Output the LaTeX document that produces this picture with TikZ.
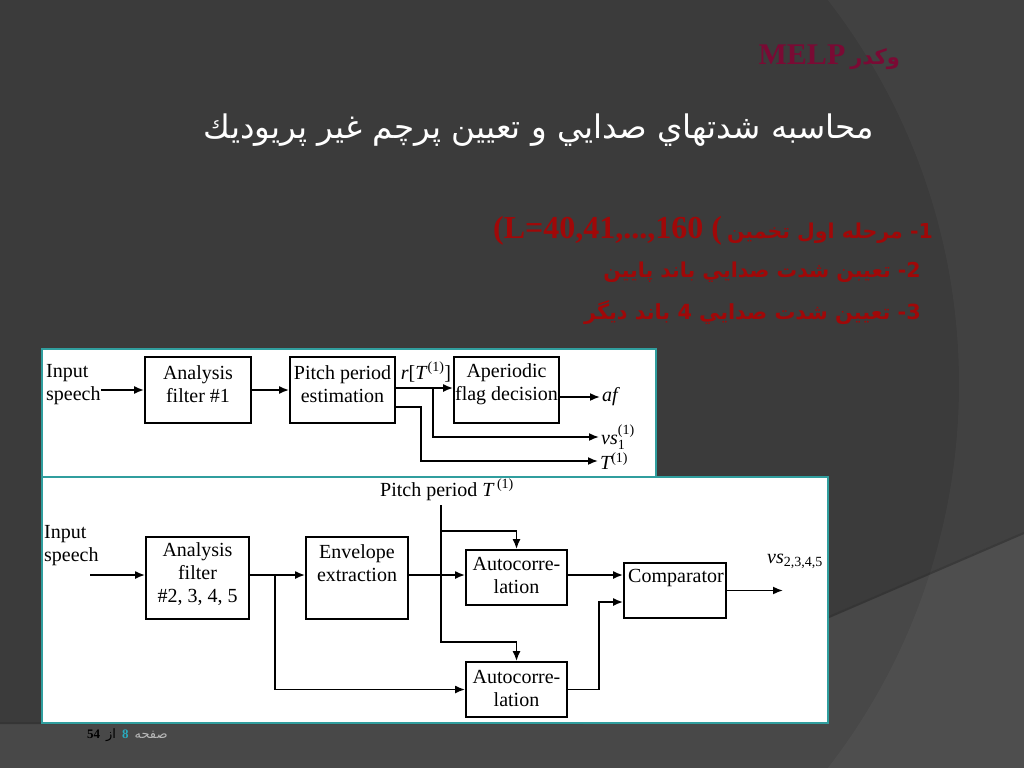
\documentclass[tikz,border=0pt]{standalone}
\usepackage{amsmath}
\usepackage{fontspec}
\setmainfont{Liberation Serif}
\newfontfamily\arabicfont[Script=Arabic]{DejaVu Sans}
\TeXXeTstate=1
\usetikzlibrary{arrows.meta}
\definecolor{bgdark}{RGB}{59,59,59}
\definecolor{panelteal}{RGB}{48,158,158}
\definecolor{redtxt}{RGB}{160,8,8}
\definecolor{hdrcol}{RGB}{122,10,52}
\definecolor{pgnum}{RGB}{40,170,190}
\definecolor{pggray}{RGB}{185,185,185}
\begin{document}
\begin{tikzpicture}[x=1pt,y=-1pt,
  box/.style={draw=black,line width=1.8pt,inner sep=0pt,fill=white},
  txt/.style={font=\fontsize{20}{23}\selectfont,align=center,inner sep=0pt},
  lbl/.style={font=\fontsize{20}{23}\selectfont,inner sep=2pt},
  arr/.style={line width=1.7pt,-{Latex[length=10pt,width=8pt]}},
  panel/.style={fill=white,draw=panelteal,line width=1.5pt}]
\useasboundingbox (0,0) rectangle (1024,768);
% background
\fill[bgdark] (0,0) rectangle (1024,768);
\fill[white,opacity=0.035,even odd rule] (0,0) rectangle (1024,768) (331,384) circle (628pt);
\fill[white,opacity=0.07] (583,722) -- (1024,532) -- (1024,768) -- (0,768) -- (0,722) -- cycle;
\draw[black,opacity=0.25,line width=2pt] (0,723) -- (583,723) -- (1024,533);
% header texts
\node[inner sep=0pt,anchor=east,text=hdrcol] (hdr) at (900,57) {{\fontsize{30}{32}\selectfont\bfseries MELP}\hspace{5pt}{\arabicfont\bfseries\fontsize{21}{24}\selectfont\beginR وكدر\endR}};
\node[inner sep=0pt,text=white,font=\arabicfont\fontsize{32.5}{36}\selectfont] (title) at (539,130) {\beginR محاسبه شدتهاي صدايي و تعيين پرچم غير پريوديك\endR};
\node[inner sep=0pt,anchor=east,text=redtxt] (l1) at (933,231) {{\fontsize{32}{34}\selectfont\bfseries (L=40,41,...,160 (}\hspace{5pt}{\arabicfont\bfseries\fontsize{20.5}{24}\selectfont\beginR 1- مرحله اول تخمين\endR}};
\node[inner sep=0pt,anchor=east,text=redtxt,font=\arabicfont\bfseries\fontsize{20.5}{24}\selectfont] (l2) at (921,272) {\beginR 2- تعيبن شدت صدايي باند پايين\endR};
\node[inner sep=0pt,anchor=east,text=redtxt,font=\arabicfont\bfseries\fontsize{20.8}{24}\selectfont] (l3) at (921,313) {\beginR 3- تعيين شدت صدايي 4 باند ديگر\endR};
% panels
\draw[panel] (42,349) rectangle (656,477);
\draw[panel] (42,477) rectangle (828,723);
% ---------- top diagram
\node[box,minimum width=106pt,minimum height=66pt] (af1) at (198,390) {};
\node[box,minimum width=105pt,minimum height=66pt] (pe) at (342.5,390) {};
\node[box,minimum width=105pt,minimum height=66pt] (ap) at (506.5,390) {};
\node[txt] (af1t) at (198,384) {Analysis\\filter \#1};
\node[txt] (pet) at (342.5,384) {Pitch period\\estimation};
\node[txt] (apt) at (506.5,384) {Aperiodic\\flag decision};
\node[txt,align=left,anchor=west] (ins1) at (46,385) {Input\\speech};
\node[lbl] (rt) at (426,372) {\textit{r}[\textit{T}$^{\textrm{(1)}}$]};
\node[lbl,anchor=west] (af) at (600,397) {\textit{af}};
\node[lbl,anchor=west] (vs1) at (599,437) {$\textit{vs}_{\textrm{1}}^{\textrm{(1)}}$};
\node[lbl,anchor=west] (T1) at (598,461) {$\textit{T}^{\textrm{(1)}}$};
\coordinate (b1) at (433,388);
\draw[arr] (ins1.east |- af1) -- (af1);
\draw[arr] (af1) -- (pe);
\draw[arr] ([yshift=2pt]pe.east) -- ([yshift=2pt]ap.west);
\draw[arr] (b1) |- (vs1.west);
\draw[arr] ([yshift=-17pt]pe.east) -- ++(25,0) |- (T1.west);
\draw[arr] ([yshift=-7pt]ap.east) -- (af.west);
% ---------- bottom diagram
\node[box,minimum width=103pt,minimum height=82pt] (af2) at (197.5,578) {};
\node[box,minimum width=102pt,minimum height=82pt] (env) at (357,578) {};
\node[box,minimum width=101pt,minimum height=55pt] (ac1) at (516.5,577.5) {};
\node[box,minimum width=101pt,minimum height=55pt] (ac2) at (516.5,689.5) {};
\node[box,minimum width=102pt,minimum height=55pt] (cmp) at (675,590.5) {};
\node[txt] (af2t) at (197.5,574) {Analysis\\filter\\\#2, 3, 4, 5};
\node[txt] (envt) at (357,563) {Envelope\\extraction};
\node[txt] (ac1t) at (516.5,575) {Autocorre-\\lation};
\node[txt] (ac2t) at (516.5,688) {Autocorre-\\lation};
\node[txt] (cmpt) at (676,578) {Comparator};
\node[txt,align=left,anchor=west] (ins2) at (44,546) {Input\\speech};
\node[lbl] (pp) at (447,490) {Pitch period \textit{T}$^{\,\textrm{(1)}}$};
\node[lbl] (vs2) at (795,561) {$\textit{vs}_{\textrm{2,3,4,5}}$};
\coordinate (in2) at (90,575);
\coordinate (b2) at (275,575);
\coordinate (p0) at (441,505);
\coordinate (pmid) at (441,531);
\coordinate (pbot) at (441,642);
\coordinate (out) at (783,590.5);
\draw[arr] (in2) -- (in2 -| af2.west);
\draw[arr] (af2.east |- in2) -- (env.west |- in2);
\draw[arr] (b2) |- (ac2.west);
\draw[arr] (env.east |- in2) -- (ac1.west |- in2);
\draw[arr] (p0) -- (pbot) -| (ac2.north);
\draw[arr] (pmid) -| (ac1.north);
\draw[arr] (ac1.east |- in2) -- (cmp.west |- in2);
\draw[arr] (ac2.east) -- ++(31,0) |- ([yshift=-11.5pt]cmp.west);
\draw[arr] (cmp.east) -- (out);
% footer
\node[inner sep=0pt,anchor=west,font=\fontsize{13}{15}\selectfont] (ft) at (87,735) {{\bfseries 54}\hspace{6pt}{\arabicfont\beginR از\endR}\hspace{6pt}{\color{pgnum}\bfseries 8}\hspace{6pt}{\color{pggray}\arabicfont\beginR صفحه\endR}};
\end{tikzpicture}
\end{document}
